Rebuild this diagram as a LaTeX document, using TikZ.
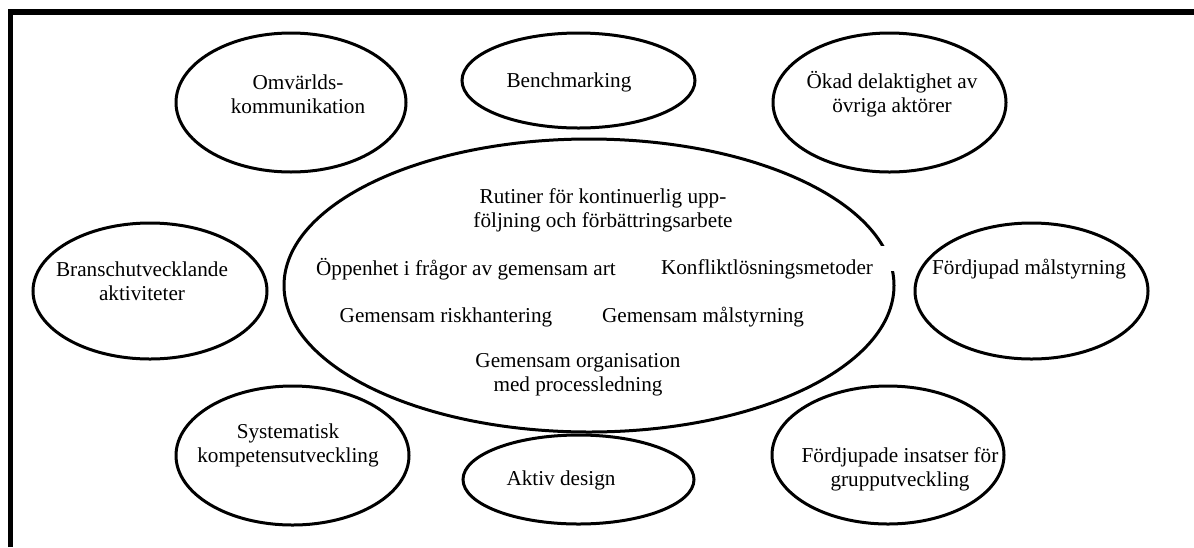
\documentclass[tikz,border=0pt]{standalone}
\usepackage{fontspec}
\setmainfont{Liberation Serif}
\usetikzlibrary{shapes.geometric}
\begin{document}
\begin{tikzpicture}[x=0.5pt,y=-0.5pt,
  bub/.style={draw,ellipse,line width=1.5pt,inner sep=0pt,outer sep=0pt},
  txt/.style={font=\fontsize{10.6}{12}\selectfont,align=center,inner sep=0pt}]
\useasboundingbox (0,0) rectangle (1194,547);
\coordinate (fa) at (10.5,547);
\coordinate (fb) at (10.5,12);
\coordinate (fc) at (1194,12);
\draw[line width=2.6pt] (fa) -- (fb) -- (fc);

% ellipses
\node[bub,minimum width=305pt,minimum height=146.5pt] (core) at (589,285.5) {};
\fill[white] (879,246) rectangle (900,271);
\node[bub,minimum width=115pt,minimum height=69.5pt] (omv) at (291,102.5) {};
\node[bub,minimum width=116.5pt,minimum height=47.5pt] (bench) at (578.5,80.5) {};
\node[bub,minimum width=116.5pt,minimum height=69.5pt] (okad) at (889.5,102.5) {};
\node[bub,minimum width=117pt,minimum height=68pt] (bransch) at (150,291) {};
\node[bub,minimum width=116.5pt,minimum height=68pt] (fmal) at (1031.5,291) {};
\node[bub,minimum width=116.5pt,minimum height=69.5pt] (syst) at (292.5,455.5) {};
\node[bub,minimum width=115.5pt,minimum height=44.5pt] (aktiv) at (578.5,479.5) {};
\node[bub,minimum width=116pt,minimum height=69pt] (fins) at (888,455) {};

% outer texts
\node[txt] (tomv) at (298,94) {Omvärlds-\\kommunikation};
\node[txt] (tbench) at (569,82) {Benchmarking};
\node[txt] (tokad) at (892,94) {Ökad delaktighet av\\övriga aktörer};
\node[txt] (tbransch) at (142,281) {Branschutvecklande\\aktiviteter};
\node[txt] (tfmal) at (1029,269) {Fördjupad målstyrning};
\node[txt] (tsyst) at (288,445) {Systematisk\\kompetensutveckling};
\node[txt] (taktiv) at (561,480) {Aktiv design};
\node[txt] (tfins) at (900,469) {Fördjupade insatser för\\grupputveckling};

% core texts
\node[txt] (t1) at (603,210.5) {Rutiner för kontinuerlig upp-\\följning och förbättringsarbete};
\node[txt] (t2) at (466,269) {Öppenhet i frågor av gemensam art};
\node[txt] (t3) at (767,269) {Konfliktlösningsmetoder};
\node[txt] (t4) at (446,317) {Gemensam riskhantering};
\node[txt] (t5) at (703,317) {Gemensam målstyrning};
\node[txt] (t6) at (578,374.5) {Gemensam organisation\\med processledning};
\end{tikzpicture}
\end{document}
